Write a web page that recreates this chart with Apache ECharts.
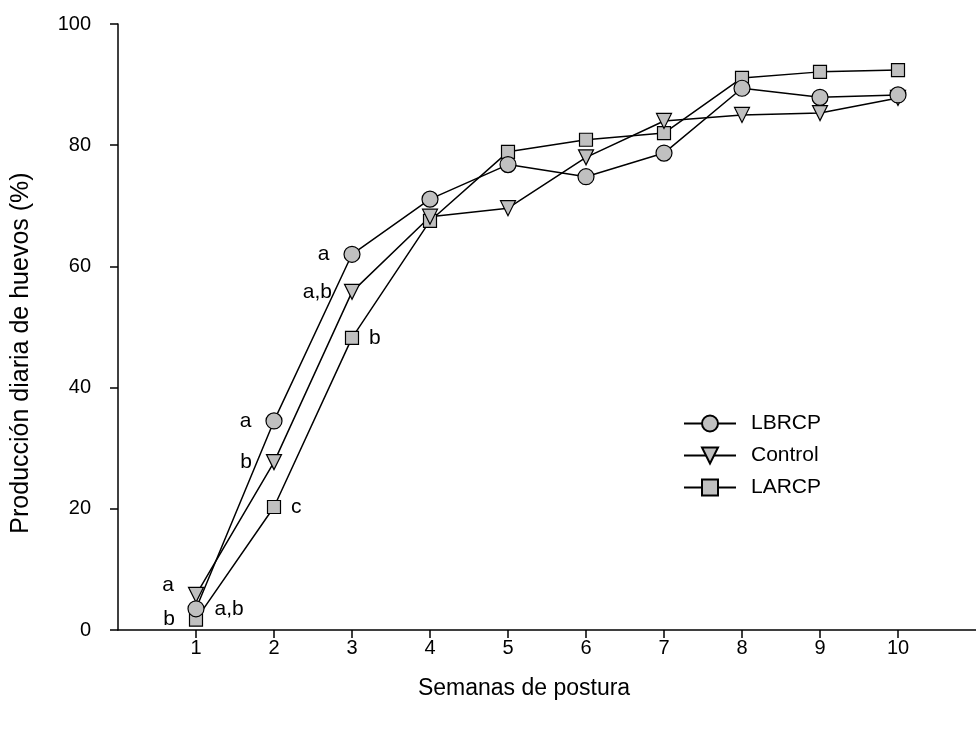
<!DOCTYPE html>
<html>
<head>
<meta charset="utf-8">
<script src="https://cdn.jsdelivr.net/npm/echarts@6/dist/echarts.min.js"></script>
<style>
html, body { margin: 0; padding: 0; background: #fff; }
#chart { width: 976px; height: 731px; }
</style>
</head>
<body>
<div id="chart"></div>
<script>
// semanas de postura
var semanas = [1, 2, 3, 4, 5, 6, 7, 8, 9, 10];
var tickVals = [1, 2, 3, 4, 5, 6, 7, 8, 9, 10];

// produccion diaria (%)
var lbrcp = [3.5, 34.5, 62.0, 71.1, 76.8, 74.8, 78.7, 89.4, 87.9, 88.3];
var control = [5.8, 27.7, 55.8, 68.2, 69.6, 78.0, 84.0, 85.0, 85.3, 87.8];
var larcp = [1.7, 20.3, 48.2, 67.5, 78.9, 80.9, 82.0, 91.1, 92.1, 92.4];

// letras de significancia (semanas 1-3)
var lbrcpLetras = ['a,b', 'a', 'a'];
var controlLetras = ['a', 'b', 'a,b'];
var larcpLetras = ['b', 'c', 'b'];

var FONT = 'Liberation Sans, Arial, sans-serif';

// arma los puntos con su letra
function armarDatos(vals, letras, lado) {
	var out = [];
	for (var i = 0; i < vals.length; i++) {
		var p = { value: [semanas[i], vals[i]] };
		if (i < letras.length) {
			var pos = lado[i];
			p.label = {
				show: true,
				formatter: letras[i],
				position: pos[0],
				distance: pos[1],
				offset: pos[2] || [0, 0],
				color: '#000',
				fontSize: 21,
				fontFamily: FONT
			};
		}
		out.push(p);
	}
	return out;
}

function serie(nombre, datos, simbolo, tam, rot) {
	return {
		name: nombre,
		type: 'line',
		data: datos,
		symbol: simbolo,
		symbolSize: tam,
		symbolRotate: rot || 0,
		showAllSymbol: true,
		lineStyle: { color: '#000', width: 1.5 },
		itemStyle: { color: '#c0c0c0', borderColor: '#000', borderWidth: 1.2 },
		emphasis: { disabled: true },
		animation: false
	};
}

var chart = echarts.init(document.getElementById('chart'));

var option = {
	backgroundColor: '#fff',
	animation: false,
	grid: { left: 118, top: 24, width: 870, height: 606, containLabel: false },
	legend: {
		left: 678,
		top: 408,
		orient: 'vertical',
		itemWidth: 52,
		itemHeight: 20,
		itemGap: 11,
		textStyle: { fontSize: 21, fontFamily: FONT, color: '#000', padding: [0, 0, 0, 10] },
		data: ['LBRCP', 'Control', 'LARCP']
	},
	xAxis: {
		type: 'value',
		min: 0,
		max: 11,
		interval: 1,
		name: 'Semanas de postura',
		nameLocation: 'middle',
		nameGap: 47,
		nameTextStyle: { fontSize: 23, fontFamily: FONT, color: '#000', padding: [0, 46, 0, 0] },
		axisLine: { onZero: false, lineStyle: { color: '#000', width: 1.5 } },
		axisTick: { show: true, length: 8, customValues: tickVals, lineStyle: { color: '#000', width: 1.5 } },
		axisLabel: { customValues: tickVals, fontSize: 20, fontFamily: FONT, color: '#000', margin: 8 },
		splitLine: { show: false }
	},
	yAxis: {
		type: 'value',
		min: 0,
		max: 100,
		interval: 20,
		name: 'Producción diaria de huevos (%)',
		nameLocation: 'middle',
		nameGap: 84,
		nameTextStyle: { fontSize: 25, fontFamily: FONT, color: '#000', padding: [0, 52, 0, 0] },
		axisLine: { show: true, lineStyle: { color: '#000', width: 1.5 } },
		axisTick: { show: true, length: 8, lineStyle: { color: '#000', width: 1.5 } },
		axisLabel: { fontSize: 20, fontFamily: FONT, color: '#000', margin: 27 },
		splitLine: { show: false }
	},
	series: [
		serie('LARCP', armarDatos(larcp, larcpLetras,
			[['left', 14], ['right', 10], ['right', 10]]), 'rect', 13),
		serie('Control', armarDatos(control, controlLetras,
			[['left', 14, [0, -10]], ['left', 14], ['left', 12]]), 'triangle', 15, 180),
		serie('LBRCP', armarDatos(lbrcp, lbrcpLetras,
			[['right', 10], ['left', 14], ['left', 14]]), 'circle', 16)
	]
};

chart.setOption(option);
</script>
</body>
</html>
